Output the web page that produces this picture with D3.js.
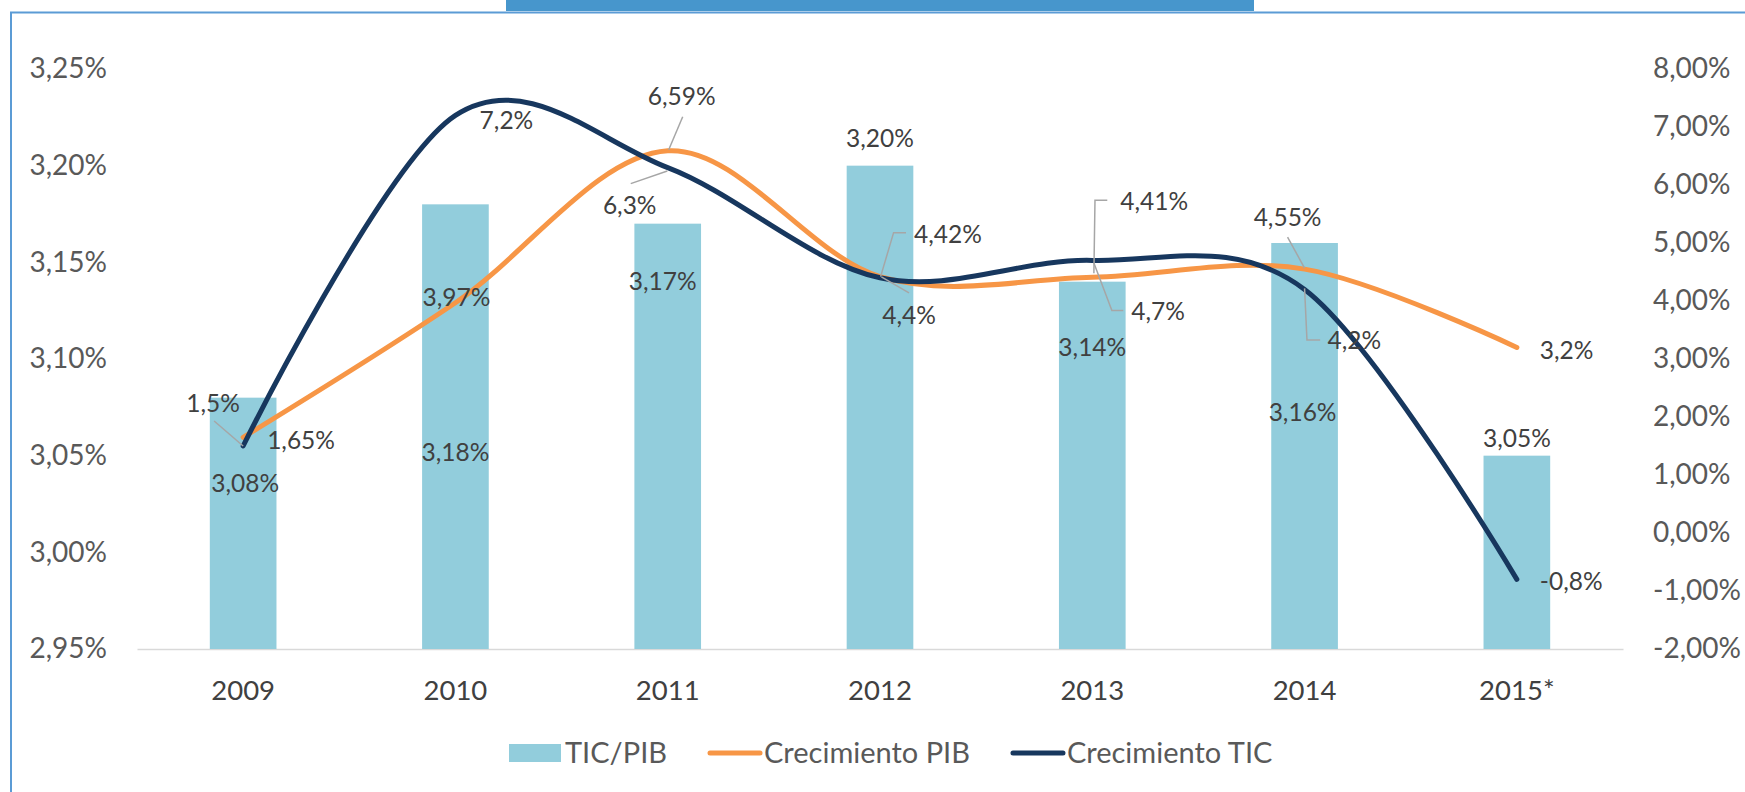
<!DOCTYPE html>
<html>
<head>
<meta charset="utf-8">
<script src="https://cdn.jsdelivr.net/npm/d3@7/dist/d3.min.js"></script>
<style>
  body { margin: 0; background: #fff; }
  svg { display: block; font-family: Lato, "Open Sans", sans-serif; }
</style>
</head>
<body>
<svg id="chart" width="1745" height="792"></svg>
<script>
// data
const years = ["2009", "2010", "2011", "2012", "2013", "2014", "2015*"];
const ticPib = [3.08, 3.18, 3.17, 3.20, 3.14, 3.16, 3.05];
const crecPib = [1.65, 3.97, 6.59, 4.42, 4.41, 4.55, 3.2];
const crecTic = [1.5, 7.2, 6.3, 4.4, 4.7, 4.2, -0.8];
const ticPibText = ["3,08%", "3,18%", "3,17%", "3,20%", "3,14%", "3,16%", "3,05%"];
const crecPibText = ["1,65%", "3,97%", "6,59%", "4,42%", "4,41%", "4,55%", "3,2%"];
const crecTicText = ["1,5%", "7,2%", "6,3%", "4,4%", "4,7%", "4,2%", "-0,8%"];
const leftTicks = [2.95, 3.00, 3.05, 3.10, 3.15, 3.20, 3.25];
const rightTicks = [-2, -1, 0, 1, 2, 3, 4, 5, 6, 7, 8];
const seriesNames = ["TIC/PIB", "Crecimiento PIB", "Crecimiento TIC"];

// label placement (pixel offsets from the data point, as Excel left them)
const barLabelOff = [[2, 86], [0, 248], [-5, 58], [0, -27], [0, 66], [-2, 169], [0, -17]];
const pibLabelOff = [[24, 3, "start"], [1, -6, "middle"], [14, -55, "middle"], [34, -42, "start"],
                     [28, -76, "start"], [-17, -52, "middle"], [23, 3, "start"]];
const ticLabelOff = [[-30, -43, "middle"], [51, 5, "middle"], [-38, 38, "middle"], [29, 37, "middle"],
                     [39, 51, "start"], [23, 51, "start"], [23, 2, "start"]];
const pibLeaders = [null, null, [[15, -34], [1, -1]], [[26, -44], [13.6, -44], [0.6, 0]],
                    [[15, -77], [2.7, -77], [1.6, -4]], [[-17, -32], [0, -1]], null];
const ticLeaders = [[[-29, -25], [0, 0]], null, [[-37, 16], [-0.4, 3.4]], [[29, 15], [1.4, -1]],
                    [[31, 50], [19.6, 50], [1.6, 2.6]], [[15.6, 50.6], [2.4, 50.6], [0, -1]], null];

const W = 1745, H = 792;
const plot = { left: 137, right: 1623, top: 69, bottom: 649 };

const col = {
  bar: "#92CDDC", pib: "#F79646", tic: "#17375E",
  axisText: "#595959", label: "#404040", leader: "#A6A6A6",
  axisLine: "#D9D9D9", frame: "#5B9BD5", tab: "#4796CC"
};

const svg = d3.select("#chart");

// frame + tab at the top
svg.append("rect").attr("x", 506).attr("y", 0).attr("width", 748).attr("height", 11).attr("fill", col.tab);
svg.append("path").attr("d", `M11,${H} V12.5 H${W}`).attr("fill", "none")
  .attr("stroke", col.frame).attr("stroke-width", 2);

const x = d3.scaleBand().domain(years).range([plot.left, plot.right]);
const yL = d3.scaleLinear().domain([2.95, 3.25]).range([plot.bottom, plot.top]);
const yR = d3.scaleLinear().domain([-2, 8]).range([plot.bottom, plot.top]);
const cx = (d, i) => x(years[i]) + x.bandwidth() / 2;
const pct2 = v => d3.format(".2f")(v).replace(".", ",").replace("\u2212", "-") + "%";

// axes
const gL = svg.append("g").attr("transform", `translate(${plot.left},0)`)
  .call(d3.axisLeft(yL).tickValues(leftTicks).tickFormat(pct2).tickSize(0).tickPadding(30));
const gR = svg.append("g").attr("transform", `translate(${plot.right},0)`)
  .call(d3.axisRight(yR).tickValues(rightTicks).tickFormat(pct2).tickSize(0).tickPadding(30));
[gL, gR].forEach(g => {
  g.attr("font-family", null).attr("font-size", null);
  g.select(".domain").remove();
  g.selectAll("text").attr("font-size", 28).attr("fill", col.axisText);
});

const gB = svg.append("g").attr("transform", `translate(0,${plot.bottom})`)
  .call(d3.axisBottom(x).tickSize(0).tickPadding(31));
gB.attr("font-family", null).attr("font-size", null);
gB.select(".domain").attr("stroke", col.axisLine).attr("stroke-width", 1.5);
gB.selectAll("text").attr("font-size", 27.5).attr("fill", col.label);

// bars
const barW = x.bandwidth() * 0.314;
svg.append("g").selectAll("rect").data(ticPib).join("rect")
  .attr("x", (d, i) => cx(d, i) - barW / 2)
  .attr("y", d => yL(d))
  .attr("width", barW)
  .attr("height", d => plot.bottom - yL(d))
  .attr("fill", col.bar);

// smoothed lines
const line = (scale) => d3.line()
  .x((d, i) => cx(d, i))
  .y(d => scale(d))
  .curve(d3.curveCardinal.tension(0));

svg.append("path").datum(crecPib).attr("d", line(yR))
  .attr("fill", "none").attr("stroke", col.pib).attr("stroke-width", 5).attr("stroke-linecap", "round");
svg.append("path").datum(crecTic).attr("d", line(yR))
  .attr("fill", "none").attr("stroke", col.tic).attr("stroke-width", 5).attr("stroke-linecap", "round");

// leader lines
function leaders(vals, defs) {
  svg.append("g").selectAll("path").data(vals).join("path")
    .attr("d", (d, i) => {
      if (!defs[i]) return null;
      const px = cx(d, i), py = yR(d);
      return "M" + defs[i].map(p => (px + p[0]) + "," + (py + p[1])).join("L");
    })
    .attr("fill", "none").attr("stroke", col.leader).attr("stroke-width", 1.5);
}
leaders(crecPib, pibLeaders);
leaders(crecTic, ticLeaders);

// data labels
const labelSize = 24.5;
svg.append("g").selectAll("text").data(ticPib).join("text")
  .attr("x", (d, i) => cx(d, i) + barLabelOff[i][0])
  .attr("y", (d, i) => yL(d) + barLabelOff[i][1])
  .attr("dy", "0.36em").attr("text-anchor", "middle")
  .attr("font-size", labelSize).attr("fill", col.label)
  .text((d, i) => ticPibText[i]);

function lineLabels(vals, texts, offs) {
  svg.append("g").selectAll("text").data(vals).join("text")
    .attr("x", (d, i) => cx(d, i) + offs[i][0])
    .attr("y", (d, i) => yR(d) + offs[i][1])
    .attr("dy", "0.36em").attr("text-anchor", (d, i) => offs[i][2])
    .attr("font-size", labelSize).attr("fill", col.label)
    .text((d, i) => texts[i]);
}
lineLabels(crecPib, crecPibText, pibLabelOff);
lineLabels(crecTic, crecTicText, ticLabelOff);

// legend
const lg = svg.append("g").attr("transform", "translate(509,753)");
let lx = 0;
seriesNames.forEach((name, i) => {
  if (i === 0) {
    lg.append("rect").attr("x", lx).attr("y", -9).attr("width", 52).attr("height", 18).attr("fill", col.bar);
  } else {
    lg.append("line").attr("x1", lx + 2).attr("x2", lx + 52).attr("y1", 0).attr("y2", 0)
      .attr("stroke", i === 1 ? col.pib : col.tic).attr("stroke-width", 5).attr("stroke-linecap", "round");
  }
  const t = lg.append("text").attr("x", lx + 56).attr("y", 0).attr("dy", "0.36em")
    .attr("font-size", 29).attr("fill", col.axisText).text(name);
  lx += 56 + t.node().getComputedTextLength() + 41;
});
</script>
</body>
</html>
